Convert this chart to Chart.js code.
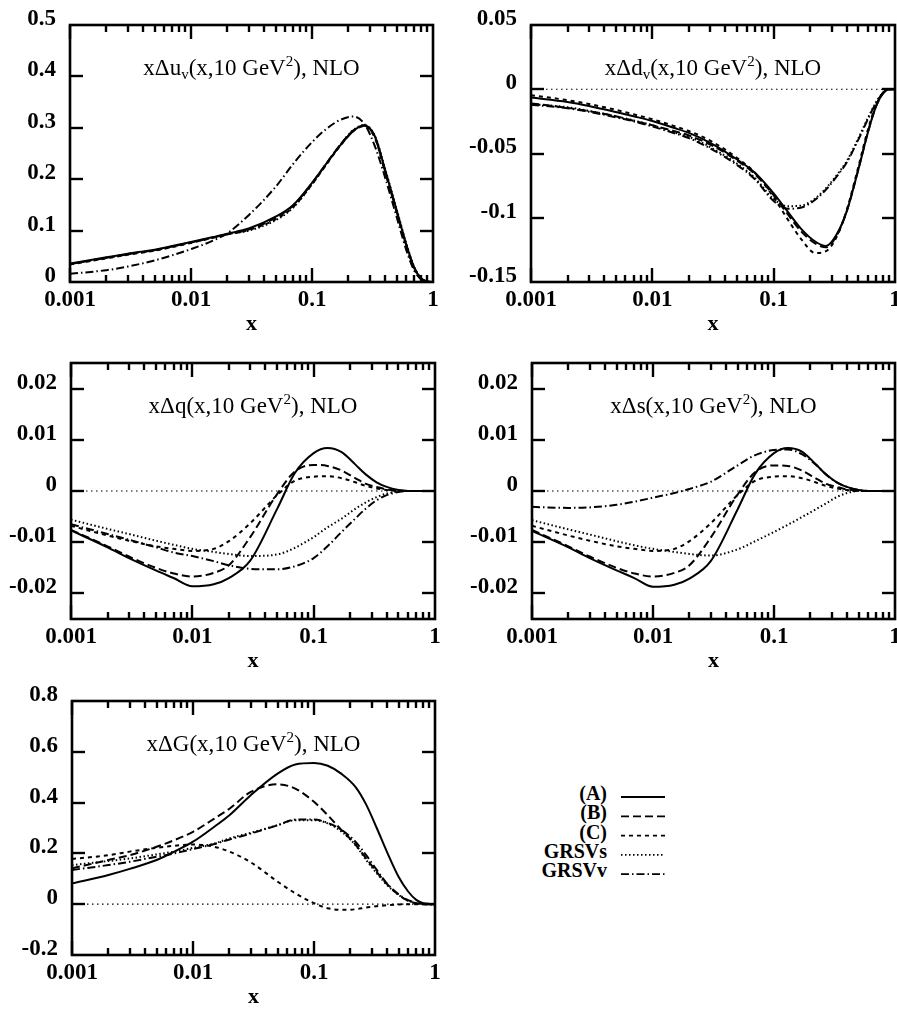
<!DOCTYPE html>
<html lang="en">
<head>
    <meta charset="UTF-8">
    <title>Polarized parton densities at 10 GeV2, NLO</title>
    <script src="https://cdn.jsdelivr.net/npm/chart.js"></script>
    <style>
        body {
            margin: 0;
            width: 897px;
            height: 1009px;
            overflow: hidden;
            position: relative;
            background: #fff;
        }
        canvas {
            position: absolute;
        }
        .lab {
            position: absolute;
            left: 480px;
            width: 127px;
            text-align: right;
            font: bold 20px 'Liberation Serif', 'Times New Roman', serif;
            line-height: 22px;
            color: #000;
        }
        #legendLines {
            position: absolute;
            left: 616px;
            top: 780px;
        }
    </style>
</head>
<body>
    <canvas id="c1"></canvas>
    <canvas id="c2"></canvas>
    <canvas id="c3"></canvas>
    <canvas id="c4"></canvas>
    <canvas id="c5"></canvas>
    <div id="legend"></div>
    <svg id="legendLines" width="56" height="100"></svg>
    <script>
        // x grid shared by all curves
        const xs = [0.001, 0.002, 0.003, 0.005, 0.007, 0.01, 0.015, 0.02, 0.03, 0.05, 0.07, 0.1,
                    0.13, 0.17, 0.22, 0.27, 0.33, 0.4, 0.5, 0.6, 0.7, 0.8, 0.9, 1];
        const xTicks = [0.001, 0.01, 0.1, 1];

        const seriesNames = ['(A)', '(B)', '(C)', 'GRSVs', 'GRSVv'];

        // x Delta u_v
        const uvTicks = [0, 0.1, 0.2, 0.3, 0.4, 0.5];
        const uvA = [0.036, 0.048, 0.055, 0.063, 0.070, 0.078, 0.087, 0.094, 0.104, 0.127, 0.150, 0.193, 0.229, 0.265, 0.294, 0.305, 0.284, 0.220, 0.140, 0.074, 0.028, 0.007, 0.001, 0];
        const uvB = [0.035, 0.047, 0.054, 0.062, 0.069, 0.077, 0.086, 0.093, 0.102, 0.125, 0.149, 0.192, 0.229, 0.266, 0.295, 0.304, 0.282, 0.217, 0.137, 0.072, 0.027, 0.006, 0.001, 0];
        const uvC = [0.034, 0.046, 0.053, 0.061, 0.068, 0.076, 0.086, 0.093, 0.101, 0.122, 0.146, 0.190, 0.227, 0.264, 0.294, 0.303, 0.281, 0.216, 0.136, 0.071, 0.027, 0.006, 0.001, 0];
        const uvS = [0.035, 0.047, 0.054, 0.062, 0.069, 0.077, 0.086, 0.093, 0.100, 0.120, 0.145, 0.190, 0.228, 0.266, 0.296, 0.305, 0.285, 0.222, 0.142, 0.076, 0.029, 0.007, 0.001, 0];
        const uvV = [0.016, 0.023, 0.030, 0.042, 0.052, 0.064, 0.080, 0.095, 0.130, 0.185, 0.230, 0.272, 0.297, 0.315, 0.322, 0.308, 0.265, 0.205, 0.127, 0.063, 0.022, 0.005, 0.001, 0];

        // x Delta d_v
        const dvTicks = [-0.15, -0.1, -0.05, 0, 0.05];
        const dvA = [-0.0065, -0.0099, -0.013, -0.0177, -0.021, -0.0247, -0.030, -0.034, -0.0417, -0.0547, -0.065, -0.081, -0.095, -0.109, -0.1185, -0.122, -0.113, -0.095, -0.062, -0.033, -0.013, -0.003, 0, 0];
        const dvB = [-0.011, -0.0145, -0.017, -0.021, -0.0245, -0.028, -0.0325, -0.036, -0.043, -0.0555, -0.066, -0.0825, -0.097, -0.111, -0.120, -0.123, -0.114, -0.095, -0.062, -0.033, -0.013, -0.003, 0, 0];
        const dvC = [-0.0047, -0.0085, -0.0115, -0.016, -0.0195, -0.0233, -0.0285, -0.0325, -0.040, -0.0535, -0.065, -0.084, -0.101, -0.117, -0.1275, -0.126, -0.115, -0.094, -0.060, -0.031, -0.012, -0.0025, 0, 0];
        const dvS = [-0.0115, -0.014, -0.0168, -0.021, -0.0243, -0.028, -0.0335, -0.037, -0.045, -0.058, -0.069, -0.0855, -0.091, -0.0905, -0.085, -0.077, -0.067, -0.056, -0.038, -0.022, -0.010, -0.0025, 0, 0];
        const dvV = [-0.012, -0.0148, -0.0175, -0.0218, -0.025, -0.029, -0.034, -0.038, -0.046, -0.059, -0.070, -0.087, -0.093, -0.092, -0.086, -0.078, -0.068, -0.057, -0.039, -0.023, -0.0105, -0.0027, 0, 0];

        // x Delta qbar
        const seaTicks = [-0.02, -0.01, 0, 0.01, 0.02];
        const qA = [-0.0077, -0.0110, -0.0131, -0.0155, -0.0170, -0.0186, -0.0182, -0.0170, -0.0136, -0.0035, 0.0035, 0.0074, 0.0084, 0.0076, 0.0052, 0.0032, 0.0017, 0.0008, 0.0002, 0, 0, 0, 0, 0];
        const qB = [-0.0076, -0.0108, -0.0128, -0.0150, -0.0161, -0.0167, -0.0160, -0.0145, -0.0090, -0.0006, 0.0038, 0.0051, 0.0049, 0.0040, 0.0025, 0.0014, 0.0008, 0.0003, 0.0001, 0, 0, 0, 0, 0];
        const qC = [-0.0068, -0.0087, -0.0097, -0.0108, -0.0113, -0.0117, -0.0113, -0.0098, -0.0063, -0.0008, 0.0020, 0.0028, 0.0029, 0.0025, 0.0017, 0.0010, 0.0005, 0.0002, 0, 0, 0, 0, 0, 0];
        const qS = [-0.0056, -0.0074, -0.0084, -0.0097, -0.0105, -0.0113, -0.0119, -0.0123, -0.0127, -0.0124, -0.0111, -0.0090, -0.0071, -0.0054, -0.0035, -0.0022, -0.0012, -0.0005, -0.0001, 0, 0, 0, 0, 0];
        const qV = [-0.0065, -0.0084, -0.0095, -0.0110, -0.0120, -0.0127, -0.0137, -0.0145, -0.0152, -0.0153, -0.0147, -0.0131, -0.0108, -0.0080, -0.0054, -0.0034, -0.0018, -0.0008, -0.0002, 0, 0, 0, 0, 0];

        // x Delta s
        const sA = [-0.0078, -0.0110, -0.0131, -0.0155, -0.0170, -0.0187, -0.0183, -0.0171, -0.0137, -0.0036, 0.0034, 0.0074, 0.0084, 0.0077, 0.0053, 0.0032, 0.0017, 0.0008, 0.0002, 0, 0, 0, 0, 0];
        const sB = [-0.0076, -0.0108, -0.0128, -0.0150, -0.0161, -0.0167, -0.0160, -0.0145, -0.0091, -0.0007, 0.0037, 0.0050, 0.0049, 0.0040, 0.0025, 0.0014, 0.0008, 0.0003, 0.0001, 0, 0, 0, 0, 0];
        const sC = [-0.0068, -0.0087, -0.0097, -0.0108, -0.0113, -0.0117, -0.0113, -0.0098, -0.0063, -0.0008, 0.0020, 0.0028, 0.0029, 0.0025, 0.0017, 0.0010, 0.0005, 0.0002, 0, 0, 0, 0, 0, 0];
        const sS = [-0.0057, -0.0075, -0.0085, -0.0098, -0.0106, -0.0113, -0.0119, -0.0123, -0.0126, -0.0114, -0.0098, -0.0080, -0.0066, -0.0051, -0.0036, -0.0024, -0.0012, -0.0004, 0, 0, 0, 0, 0, 0];
        const sV = [-0.0031, -0.0033, -0.0032, -0.0027, -0.0021, -0.0013, -0.0004, 0.0004, 0.0018, 0.0050, 0.0070, 0.0080, 0.0081, 0.0072, 0.0052, 0.0032, 0.0017, 0.0008, 0.0002, 0, 0, 0, 0, 0];

        // x Delta G
        const gTicks = [-0.2, 0, 0.2, 0.4, 0.6, 0.8];
        const gA = [0.082, 0.115, 0.139, 0.174, 0.207, 0.246, 0.305, 0.350, 0.429, 0.514, 0.550, 0.556, 0.545, 0.512, 0.462, 0.392, 0.300, 0.207, 0.108, 0.050, 0.017, 0.004, 0.001, 0];
        const gB = [0.141, 0.174, 0.193, 0.226, 0.252, 0.285, 0.337, 0.376, 0.442, 0.472, 0.455, 0.403, 0.350, 0.290, 0.235, 0.180, 0.127, 0.080, 0.037, 0.013, 0.004, 0.001, 0, 0];
        const gC = [0.178, 0.193, 0.207, 0.222, 0.230, 0.235, 0.226, 0.207, 0.165, 0.089, 0.043, 0.004, -0.016, -0.022, -0.020, -0.013, -0.008, -0.004, -0.001, 0, 0, 0, 0, 0];
        const gS = [0.154, 0.170, 0.180, 0.196, 0.207, 0.222, 0.239, 0.259, 0.281, 0.311, 0.331, 0.331, 0.318, 0.285, 0.233, 0.174, 0.122, 0.076, 0.037, 0.014, 0.004, 0.001, 0, 0];
        const gV = [0.135, 0.154, 0.167, 0.187, 0.200, 0.217, 0.237, 0.255, 0.278, 0.311, 0.333, 0.333, 0.320, 0.292, 0.246, 0.193, 0.135, 0.082, 0.039, 0.016, 0.005, 0.001, 0, 0];

        const family = "'Liberation Serif', 'Times New Roman', serif";
        const seriesDash = [[], [8, 4], [4, 4], [1.5, 2.5], [8, 3, 1.5, 3]];
        // the top label sets the top padding to ~28px anyway, so use that
        const yAxisW = 68, padTop = 28, padRight = 15, xAxisH = 70;

        // tick marks along x: 1..9 times each decade, the 1s are the long ones
        const xMarks = [];
        xTicks.slice(0, -1).forEach(dec => {
            [1, 2, 3, 4, 5, 6, 7, 8, 9].forEach(m => xMarks.push({ value: dec * m, major: m === 1 }));
        });

        const panels = [
            { id: 'c1', area: [70, 25, 433, 282], min: 0, max: 0.5, ticks: uvTicks, zero: false,
              series: [uvA, uvB, uvC, uvS, uvV],
              title: [['xΔu', ''], ['v', 'sub'], ['(x,10 GeV', ''], ['2', 'sup'], ['), NLO', '']] },
            { id: 'c2', area: [531, 25, 895, 282], min: -0.15, max: 0.05, ticks: dvTicks, zero: true,
              series: [dvA, dvB, dvC, dvS, dvV],
              title: [['xΔd', ''], ['v', 'sub'], ['(x,10 GeV', ''], ['2', 'sup'], ['), NLO', '']] },
            { id: 'c3', area: [71, 363, 435, 619], min: -0.025, max: 0.025, ticks: seaTicks, zero: true,
              series: [qA, qB, qC, qS, qV],
              title: [['xΔq(x,10 GeV', ''], ['2', 'sup'], ['), NLO', '']] },
            { id: 'c4', area: [532, 363, 895, 619], min: -0.025, max: 0.025, ticks: seaTicks, zero: true,
              series: [sA, sB, sC, sS, sV],
              title: [['xΔs(x,10 GeV', ''], ['2', 'sup'], ['), NLO', '']] },
            { id: 'c5', area: [72, 701, 435, 955], min: -0.2, max: 0.8, ticks: gTicks, zero: true,
              series: [gA, gB, gC, gS, gV],
              title: [['xΔG(x,10 GeV', ''], ['2', 'sup'], ['), NLO', '']] }
        ];

        // inward ticks on all four sides plus the box, filled as small rects
        const framePlugin = {
            id: 'frame',
            afterDraw(chart) {
                const ctx = chart.ctx;
                const a = chart.chartArea;
                const sx = chart.scales.x, sy = chart.scales.y;
                const pixelX = v => {
                    const p = sx.getPixelForValue(v);
                    if (isFinite(p)) return p;
                    const lo = Math.log10(xTicks[0]), hi = Math.log10(xTicks[xTicks.length - 1]);
                    return a.left + (Math.log10(v) - lo) / (hi - lo) * (a.right - a.left);
                };
                const tw = 2.4;
                ctx.save();
                ctx.setLineDash([]);
                ctx.globalAlpha = 1;
                ctx.globalCompositeOperation = 'source-over';
                ctx.fillStyle = '#000';
                ctx.strokeStyle = '#000';
                xMarks.forEach(t => {
                    const px = Math.round(pixelX(t.value));
                    const len = t.major ? 14 : 7;
                    ctx.fillRect(px - tw / 2, a.bottom - len, tw, len);
                    ctx.fillRect(px - tw / 2, a.top, tw, len);
                });
                sy.ticks.forEach(t => {
                    if (t.value <= sy.min || t.value >= sy.max) return;
                    const py = Math.round(sy.getPixelForValue(t.value));
                    ctx.fillRect(a.left, py - tw / 2, 13, tw);
                    ctx.fillRect(a.right - 13, py - tw / 2, 13, tw);
                });
                ctx.lineWidth = 2.6;
                ctx.strokeRect(a.left, a.top, a.right - a.left, a.bottom - a.top);
                ctx.restore();
            }
        };

        // title with sub/superscripts inside the plot box
        const titlePlugin = {
            id: 'panelTitle',
            afterDraw(chart, args, opts) {
                const parts = opts.parts;
                if (!parts) return;
                const ctx = chart.ctx;
                const a = chart.chartArea;
                const fontFor = k => (k ? '15px ' : '23px ') + family;
                ctx.save();
                let total = 0;
                parts.forEach(([t, k]) => {
                    ctx.font = fontFor(k);
                    total += ctx.measureText(t).width;
                });
                let cx = (a.left + a.right) / 2 - total / 2;
                const base = a.top + 50;
                ctx.fillStyle = '#000';
                ctx.textBaseline = 'alphabetic';
                parts.forEach(([t, k]) => {
                    ctx.font = fontFor(k);
                    const dy = k === 'sub' ? 4 : (k === 'sup' ? -9 : 0);
                    ctx.fillText(t, cx, base + dy);
                    cx += ctx.measureText(t).width;
                });
                ctx.restore();
            }
        };

        panels.forEach(p => {
            const [L, T, R, B] = p.area;
            const cv = document.getElementById(p.id);
            const w = R - L + yAxisW + padRight;
            const h = B - T + padTop + xAxisH;
            cv.width = w;
            cv.height = h;
            cv.style.width = w + 'px';
            cv.style.height = h + 'px';
            cv.style.left = (L - yAxisW) + 'px';
            cv.style.top = (T - padTop) + 'px';

            const datasets = p.series.map((vals, i) => ({
                label: seriesNames[i],
                data: xs.map((x, j) => ({ x: x, y: vals[j] })),
                borderColor: '#000',
                borderWidth: 2,
                borderDash: seriesDash[i],
                pointRadius: 0,
                fill: false,
                cubicInterpolationMode: 'monotone'
            }));
            if (p.zero) {
                datasets.push({
                    label: 'zero',
                    data: [{ x: xTicks[0], y: 0 }, { x: xTicks[xTicks.length - 1], y: 0 }],
                    borderColor: '#000',
                    borderWidth: 1.2,
                    borderDash: [1.5, 3.5],
                    pointRadius: 0,
                    fill: false
                });
            }

            new Chart(cv, {
                type: 'line',
                data: { datasets: datasets },
                options: {
                    responsive: false,
                    animation: false,
                    layout: { padding: { left: 0, top: padTop, right: padRight, bottom: 0 } },
                    scales: {
                        x: {
                            type: 'logarithmic',
                            min: xTicks[0],
                            max: xTicks[xTicks.length - 1],
                            afterBuildTicks: s => { s.ticks = xTicks.map(v => ({ value: v })); },
                            afterFit: s => { s.height = xAxisH; },
                            grid: { display: false, drawTicks: false },
                            border: { display: false },
                            ticks: {
                                autoSkip: false,
                                maxRotation: 0,
                                padding: 4,
                                color: '#000',
                                font: { family: family, size: 23, weight: 'bold' },
                                callback: v => String(v)
                            },
                            title: {
                                display: true,
                                text: 'x',
                                color: '#000',
                                font: { family: family, size: 22, weight: 'bold' },
                                padding: { top: 0, bottom: 14 }
                            }
                        },
                        y: {
                            type: 'linear',
                            min: p.min,
                            max: p.max,
                            afterBuildTicks: s => { s.ticks = p.ticks.map(v => ({ value: v })); },
                            afterFit: s => { s.width = yAxisW; },
                            grid: { display: false, drawTicks: false },
                            border: { display: false },
                            ticks: {
                                padding: 14,
                                labelOffset: -6,
                                color: '#000',
                                font: { family: family, size: 23, weight: 'bold' },
                                callback: v => String(v)
                            }
                        }
                    },
                    plugins: {
                        legend: { display: false },
                        tooltip: { enabled: false },
                        panelTitle: { parts: p.title }
                    }
                },
                plugins: [titlePlugin, framePlugin]
            });
        });

        // legend: names on the left, line samples on the right
        const legend = document.getElementById('legend');
        const svg = document.getElementById('legendLines');
        seriesNames.forEach((name, i) => {
            const yc = 793 + i * 19.3;
            const lab = document.createElement('div');
            lab.className = 'lab';
            lab.textContent = name;
            lab.style.top = (yc - 11) + 'px';
            legend.appendChild(lab);

            const ln = document.createElementNS('http://www.w3.org/2000/svg', 'line');
            const ly = yc - 780 + 4;
            ln.setAttribute('x1', 5);
            ln.setAttribute('x2', 49);
            ln.setAttribute('y1', ly);
            ln.setAttribute('y2', ly);
            ln.setAttribute('stroke', '#000');
            ln.setAttribute('stroke-width', 1.8);
            if (seriesDash[i].length) ln.setAttribute('stroke-dasharray', seriesDash[i].join(' '));
            svg.appendChild(ln);
        });
    </script>
</body>
</html>
